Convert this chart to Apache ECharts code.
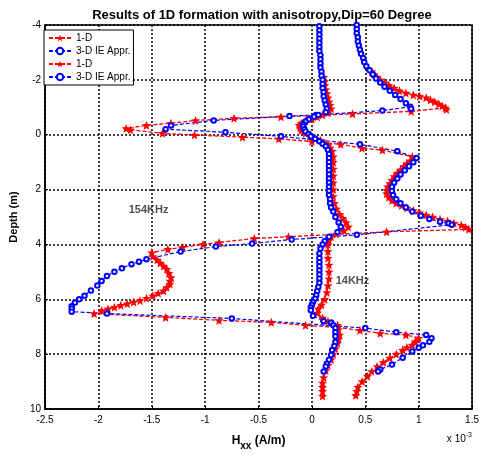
<!DOCTYPE html>
<html><head><meta charset="utf-8">
<script src="https://cdn.jsdelivr.net/npm/echarts@6/dist/echarts.min.js"></script>
<style>html,body{margin:0;padding:0;background:#fff}#c{width:482px;height:456px}</style>
</head><body><div id="c"></div>
<script>
// [Hxx (x1e-3 A/m), depth (m)]
const red154 = [[0.56,-2.3],[0.58,-2.2],[0.61,-2.1],[0.64,-2.0],[0.68,-1.9],[0.72,-1.8],[0.77,-1.7],[0.82,-1.6],[0.88,-1.52],[0.95,-1.45],[1.01,-1.4],[1.07,-1.35],[1.11,-1.27],[1.15,-1.2],[1.19,-1.12],[1.22,-1.05],[1.25,-0.98],[1.26,-0.92],
[0.93,-0.85],[0.38,-0.76],[-0.29,-0.65],[-0.73,-0.6],[-1.09,-0.52],[-1.32,-0.42],[-1.55,-0.34],[-1.74,-0.23],
[-1.7,-0.18],[-1.4,-0.05],[-1.1,0.01],[-0.65,0.09],[-0.31,0.15],[0.0,0.25],[0.27,0.35],[0.47,0.49],[0.66,0.56],[0.94,0.8],
[0.92,0.95],[0.89,1.05],[0.86,1.15],[0.83,1.28],[0.8,1.4],[0.77,1.52],[0.75,1.65],[0.73,1.78],[0.71,1.9],[0.7,2.02],[0.7,2.15],[0.72,2.28],[0.75,2.4],[0.79,2.5],[0.84,2.58],[0.89,2.67],[0.95,2.76],[1.01,2.85],[1.07,2.93],[1.13,3.0],[1.2,3.08],[1.27,3.15],[1.33,3.22],[1.4,3.3],[1.44,3.37],[1.47,3.45],
[0.7,3.54],[-0.22,3.72],[-0.54,3.78],[-0.87,3.93],[-1.02,4.0],[-1.21,4.1],[-1.35,4.18],[-1.5,4.3],
[-1.49,4.44],[-1.45,4.56],[-1.42,4.68],[-1.39,4.79],[-1.36,4.9],[-1.34,5.05],[-1.32,5.21],[-1.33,5.33],[-1.33,5.44],[-1.36,5.57],[-1.39,5.69],[-1.44,5.78],[-1.49,5.87],[-1.55,5.96],[-1.61,6.05],[-1.67,6.1],[-1.73,6.16],[-1.79,6.22],[-1.85,6.29],[-1.91,6.35],[-1.97,6.41],[-2.04,6.52],
[-1.37,6.66],[-0.87,6.77],[-0.38,6.84],[-0.06,6.95],[0.24,7.02],[0.45,7.13],[0.64,7.24],[0.88,7.3],[1.0,7.41],
[0.97,7.54],[0.94,7.67],[0.89,7.76],[0.85,7.85],[0.79,8.0],[0.73,8.14],[0.67,8.3],[0.61,8.45],[0.56,8.63],[0.52,8.81],[0.47,9.0],[0.43,9.2],[0.42,9.35],[0.41,9.5]];

const blue154 = [[0.42,-4.0],[0.42,-3.85],[0.42,-3.7],[0.43,-3.55],[0.43,-3.4],[0.44,-3.25],[0.45,-3.1],[0.46,-2.95],[0.48,-2.8],[0.49,-2.65],[0.51,-2.5],[0.54,-2.35],[0.57,-2.2],[0.6,-2.05],[0.64,-1.9],[0.68,-1.75],[0.73,-1.6],[0.78,-1.45],[0.83,-1.3],[0.88,-1.15],[0.92,-1.02],[0.93,-0.95],
[0.66,-0.88],[0.04,-0.72],[-0.21,-0.68],[-0.92,-0.52],[-1.32,-0.34],[-1.37,-0.2],
[-0.81,-0.09],[-0.29,0.06],[0.45,0.35],[0.8,0.6],[0.98,0.85],
[0.95,1.0],[0.91,1.15],[0.87,1.3],[0.83,1.45],[0.8,1.6],[0.77,1.75],[0.75,1.9],[0.75,2.05],[0.76,2.2],[0.79,2.35],[0.83,2.5],[0.88,2.65],[0.94,2.8],[1.02,2.95],[1.1,3.07],[1.2,3.17],[1.28,3.23],[1.31,3.28],
[0.42,3.65],[-0.19,3.82],[-0.56,3.97],[-0.9,4.08],[-1.23,4.26],[-1.55,4.54],
[-1.62,4.63],[-1.69,4.72],[-1.78,4.87],[-1.85,5.0],[-1.92,5.15],[-1.97,5.33],[-2.01,5.5],[-2.07,5.68],[-2.13,5.87],[-2.18,6.0],[-2.22,6.12],[-2.25,6.25],[-2.25,6.34],[-2.25,6.45],
[-1.92,6.52],[-0.75,6.7],[0.5,7.05],[0.79,7.2],[1.07,7.3],[1.12,7.42],[1.1,7.55],
[1.04,7.68],[1.0,7.77],[0.94,7.9],[0.85,8.13],[0.75,8.38],[0.64,8.56],[0.62,8.63]];

const red14 = [[0.11,-2.1],[0.12,-1.95],[0.12,-1.8],[0.13,-1.65],[0.14,-1.5],[0.15,-1.35],[0.16,-1.2],[0.17,-1.08],[0.18,-0.95],[0.15,-0.8],[0.1,-0.72],[0.05,-0.65],[0.0,-0.57],[-0.06,-0.5],[-0.1,-0.42],[-0.12,-0.35],[-0.11,-0.25],[-0.1,-0.15],[-0.06,-0.05],[-0.02,0.05],[0.03,0.12],[0.08,0.2],[0.12,0.3],[0.15,0.38],[0.17,0.48],[0.19,0.6],[0.2,0.8],[0.2,1.0],[0.2,1.25],[0.2,1.5],[0.2,1.75],[0.2,2.0],[0.2,2.25],[0.21,2.5],[0.23,2.7],[0.26,2.9],[0.29,3.05],[0.32,3.2],[0.34,3.36],[0.3,3.5],[0.23,3.62],[0.18,3.72],[0.16,3.85],[0.15,4.0],[0.15,4.25],[0.15,4.5],[0.16,4.75],[0.16,5.0],[0.16,5.25],[0.15,5.5],[0.14,5.75],[0.12,6.0],[0.09,6.2],[0.06,6.35],[0.05,6.5],[0.1,6.68],[0.15,6.8],[0.24,6.95],[0.25,7.1],[0.26,7.3],[0.25,7.45],[0.24,7.6],[0.22,7.8],[0.2,8.0],[0.18,8.2],[0.15,8.4],[0.13,8.6],[0.11,8.85],[0.1,9.05],[0.1,9.2],[0.1,9.35],[0.1,9.53]];

const blue14 = [[0.07,-3.95],[0.07,-3.8],[0.07,-3.65],[0.07,-3.5],[0.07,-3.35],[0.07,-3.2],[0.07,-3.05],[0.08,-2.9],[0.08,-2.75],[0.08,-2.6],[0.08,-2.45],[0.09,-2.3],[0.09,-2.15],[0.1,-2.0],[0.1,-1.85],[0.1,-1.7],[0.11,-1.55],[0.11,-1.4],[0.12,-1.25],[0.13,-1.1],[0.14,-0.95],[0.13,-0.82],[0.06,-0.72],[0.02,-0.66],[-0.03,-0.56],[-0.06,-0.48],[-0.08,-0.38],[-0.08,-0.3],[-0.07,-0.2],[-0.06,-0.12],[-0.03,-0.03],[-0.01,0.06],[0.03,0.15],[0.07,0.24],[0.1,0.33],[0.13,0.42],[0.15,0.55],[0.16,0.7],[0.16,0.85],[0.16,1.0],[0.16,1.15],[0.16,1.3],[0.16,1.45],[0.16,1.6],[0.16,1.75],[0.16,1.9],[0.16,2.05],[0.16,2.2],[0.17,2.35],[0.17,2.5],[0.18,2.65],[0.2,2.8],[0.22,3.0],[0.25,3.2],[0.27,3.36],[0.24,3.55],[0.16,3.72],[0.12,3.88],[0.1,4.0],[0.08,4.15],[0.07,4.33],[0.07,4.5],[0.07,4.65],[0.07,4.8],[0.07,4.95],[0.07,5.1],[0.07,5.25],[0.07,5.4],[0.06,5.55],[0.05,5.7],[0.04,5.85],[0.03,5.98],[0.01,6.1],[0.0,6.2],[-0.01,6.3],[-0.01,6.4],[0.01,6.6],[0.11,6.8],[0.18,6.85],[0.2,6.95],[0.22,7.05],[0.22,7.2],[0.22,7.35],[0.22,7.56],[0.21,7.7],[0.19,7.85],[0.18,8.03],[0.16,8.2],[0.14,8.35],[0.13,8.45],[0.11,8.63]];

const freqLabels = [{text:'154KHz', pos:[-1.53,2.75]},{text:'14KHz', pos:[0.38,5.33]}];
const seriesNames = ['1-D','3-D IE Appr.','1-D ','3-D IE Appr. '];

const FONT = 'Liberation Sans, Arial, sans-serif';
const star = 'path://M0,-10 L2.6,-3.5 L9.5,-3.1 L4.2,1.3 L5.9,8.1 L0,4.3 L-5.9,8.1 L-4.2,1.3 L-9.5,-3.1 L-2.6,-3.5 Z';

function lineSeries(name, data, color, symbol, size, lw, bw) {
  return {
    name, type:'line', data, symbol, symbolSize:size, showSymbol:true, showAllSymbol:true,
    lineStyle:{color, width:lw, type:[4,2]},
    itemStyle:{color, borderWidth:bw},
    animation:false, z:2
  };
}

const chart = echarts.init(document.getElementById('c'), null, {renderer:'canvas'});
chart.setOption({
  backgroundColor:'#fff',
  animation:false,
  title:{text:'Results of 1D formation with anisotropy,Dip=60 Degree', left:257, textAlign:'center', top:4,
    textStyle:{fontFamily:FONT, fontSize:13, fontWeight:'bold', color:'#000'}},
  grid:{left:39, right:9, top:25, bottom:41, show:true, borderColor:'#000', borderWidth:1.5, backgroundColor:'#fff'},
  legend:{
    data: seriesNames, orient:'vertical', left:44, top:30, itemGap:3, itemWidth:22, itemHeight:8,
    padding:[3,3,3,4], borderColor:'#000', borderWidth:1, backgroundColor:'#fff',
    textStyle:{fontFamily:FONT, fontSize:10, color:'#000'}, formatter: n => n.trim()
  },
  xAxis:{type:'value', min:-2.5, max:1.5, interval:0.5,
    axisLine:{show:true, onZero:false, lineStyle:{color:'#000', width:1.5}},
    axisTick:{show:true, inside:true, length:3, lineStyle:{color:'#000'}},
    axisLabel:{color:'#000', fontFamily:FONT, fontSize:10, margin:6},
    splitLine:{show:true, lineStyle:{color:'#000', type:[2,2], width:1.5}},
    name:'H{s|xx} (A/m)', nameLocation:'middle', nameGap:22,
    nameTextStyle:{fontFamily:FONT, fontSize:12, fontWeight:'bold', color:'#000',
      rich:{s:{fontFamily:FONT, fontSize:10, fontWeight:'bold', color:'#000', verticalAlign:'bottom', padding:[10,0,0,0]}}}
  },
  yAxis:{type:'value', inverse:true, min:-4, max:10, interval:2,
    axisLine:{show:true, onZero:false, lineStyle:{color:'#000', width:1.5}},
    axisTick:{show:true, inside:true, length:3, lineStyle:{color:'#000'}},
    axisLabel:{color:'#000', fontFamily:FONT, fontSize:10, margin:4},
    splitLine:{show:true, lineStyle:{color:'#000', type:[2,2], width:1.5}},
    name:'Depth (m)', nameLocation:'middle', nameGap:22,
    nameTextStyle:{fontFamily:FONT, fontSize:11, fontWeight:'bold', color:'#000'}
  },
  graphic:[{type:'text', right:10, top:432, style:{
    text:'x 10{s|-3}', fill:'#000', font:'10px '+FONT,
    rich:{s:{fontSize:7, fontFamily:FONT, fill:'#000', verticalAlign:'top', padding:[0,0,8,0]}}}}],
  series:[
    lineSeries(seriesNames[0], red154, '#ff0000', star, 9, 1.3, 0),
    lineSeries(seriesNames[1], blue154, '#0000ff', 'emptyCircle', 4.5, 1.2, 1),
    lineSeries(seriesNames[2], red14, '#ff0000', star, 9, 1.3, 0),
    lineSeries(seriesNames[3], blue14, '#0000ff', 'emptyCircle', 4.5, 1.2, 1),
    {type:'scatter', symbolSize:0, silent:true, z:5,
      data: freqLabels.map(d => ({value:d.pos, label:{show:true, position:'inside', formatter:d.text}})),
      label:{fontFamily:FONT, fontSize:11, fontWeight:'bold', color:'#222'}}
  ]
});
</script></body></html>
